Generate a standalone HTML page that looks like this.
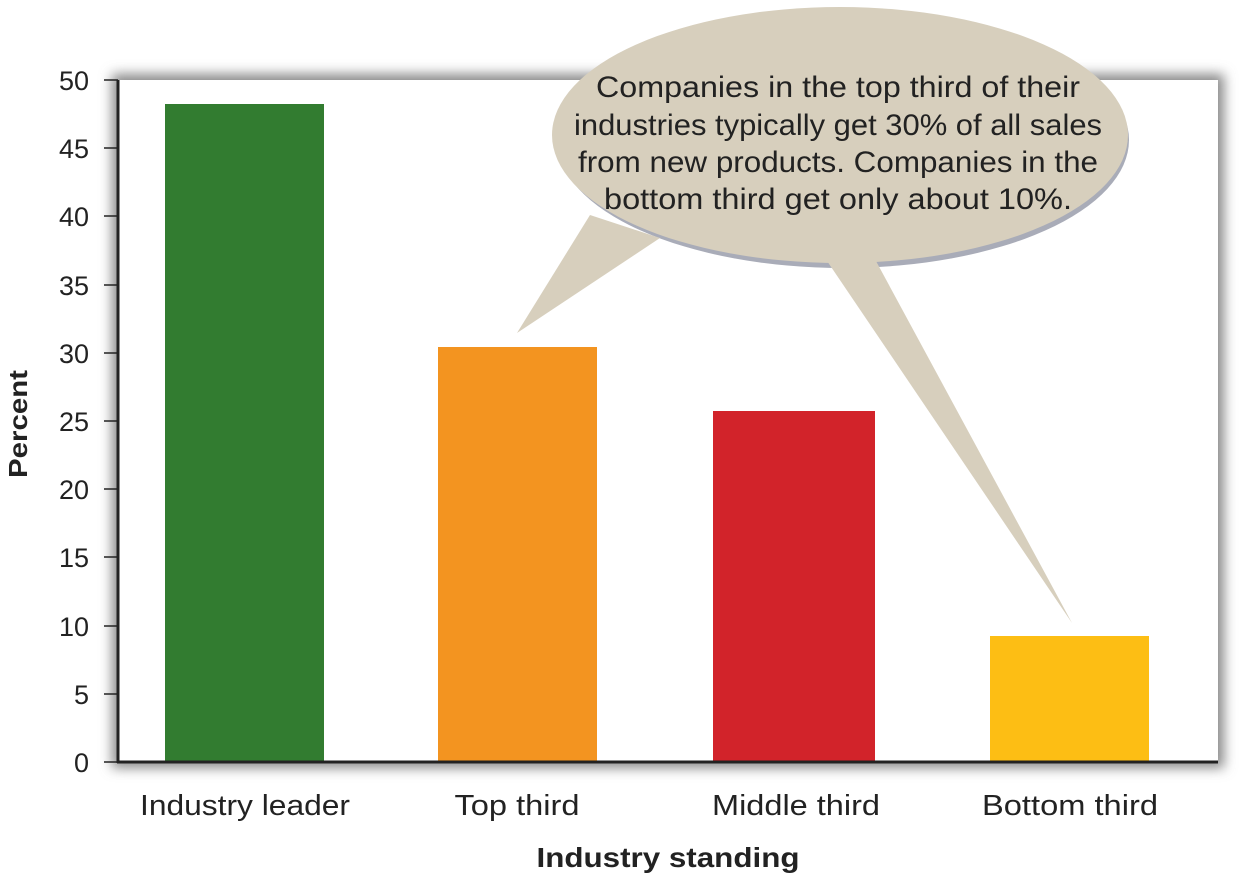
<!DOCTYPE html>
<html><head><meta charset="utf-8"><style>
body{margin:0;background:#fff;width:1257px;height:876px;overflow:hidden;font-family:"Liberation Sans",sans-serif}
</style></head><body>
<svg width="1257" height="876" viewBox="0 0 1257 876" xmlns="http://www.w3.org/2000/svg">
<defs>
<filter id="sh" x="-5%" y="-5%" width="110%" height="110%"><feGaussianBlur stdDeviation="6"/></filter>
</defs>
<rect x="112" y="74" width="1112" height="694" fill="#888" filter="url(#sh)"/>
<rect x="118" y="80" width="1100" height="682" fill="#fff"/>
<rect x="165" y="104" width="159" height="658" fill="#327c30"/>
<rect x="438" y="347" width="159" height="415" fill="#f39420"/>
<rect x="713" y="411" width="162" height="351" fill="#d2232a"/>
<rect x="990" y="636" width="159" height="126" fill="#fdbe14"/>
<line x1="118" y1="80" x2="118" y2="763" stroke="#222" stroke-width="3"/>
<line x1="117" y1="762" x2="1218" y2="762" stroke="#222" stroke-width="3"/>
<g stroke="#222" stroke-width="1.5">
<line x1="104" y1="80" x2="118" y2="80"/><line x1="104" y1="148" x2="118" y2="148"/>
<line x1="104" y1="216" x2="118" y2="216"/><line x1="104" y1="285" x2="118" y2="285"/>
<line x1="104" y1="353" x2="118" y2="353"/><line x1="104" y1="421" x2="118" y2="421"/>
<line x1="104" y1="489" x2="118" y2="489"/><line x1="104" y1="557" x2="118" y2="557"/>
<line x1="104" y1="626" x2="118" y2="626"/><line x1="104" y1="694" x2="118" y2="694"/>
<line x1="104" y1="762" x2="118" y2="762"/>
</g>
<g font-size="27" fill="#222" text-anchor="end">
<text x="89" y="90">50</text><text x="89" y="158">45</text><text x="89" y="226">40</text>
<text x="89" y="295">35</text><text x="89" y="363">30</text><text x="89" y="431">25</text>
<text x="89" y="499">20</text><text x="89" y="567">15</text><text x="89" y="636">10</text>
<text x="89" y="704">5</text><text x="89" y="772">0</text>
</g>
<g font-size="29" fill="#222" text-anchor="middle">
<text x="245" y="815" textLength="210" lengthAdjust="spacingAndGlyphs">Industry leader</text>
<text x="517" y="815" textLength="125" lengthAdjust="spacingAndGlyphs">Top third</text>
<text x="796" y="815" textLength="168" lengthAdjust="spacingAndGlyphs">Middle third</text>
<text x="1070" y="815" textLength="176" lengthAdjust="spacingAndGlyphs">Bottom third</text>
</g>
<text x="668" y="867" font-size="28" font-weight="bold" fill="#222" text-anchor="middle" textLength="263" lengthAdjust="spacingAndGlyphs">Industry standing</text>
<text transform="translate(27,424) rotate(-90)" font-size="26" font-weight="bold" fill="#222" text-anchor="middle" textLength="108" lengthAdjust="spacingAndGlyphs">Percent</text>
<!-- bubble -->
<ellipse cx="843" cy="140" rx="286" ry="128" fill="#a9acb8"/>
<path d="M590,215 L517,333 L660,238 Z" fill="#d7cfbd"/>
<path d="M823,255 L1072,623 L870,250 Z" fill="#d7cfbd"/>
<ellipse cx="840" cy="135" rx="288" ry="128" fill="#d7cfbd"/>
<g font-size="30" fill="#222" text-anchor="middle">
<text x="838" y="97" textLength="484" lengthAdjust="spacingAndGlyphs">Companies in the top third of their</text>
<text x="838" y="135" textLength="528" lengthAdjust="spacingAndGlyphs">industries typically get 30% of all sales</text>
<text x="838" y="172" textLength="520" lengthAdjust="spacingAndGlyphs">from new products. Companies in the</text>
<text x="838" y="209" textLength="468" lengthAdjust="spacingAndGlyphs">bottom third get only about 10%.</text>
</g>
</svg>
</body></html>
